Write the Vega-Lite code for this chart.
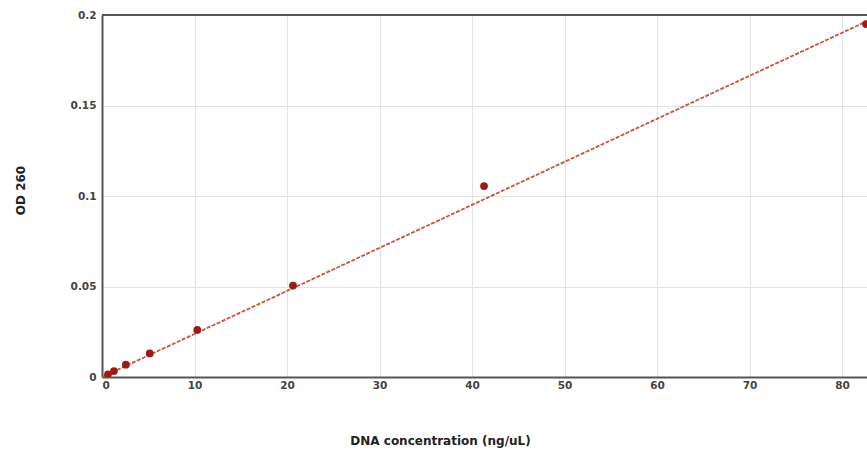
{
  "$schema": "https://vega.github.io/schema/vega-lite/v6.json",
  "width": 765,
  "height": 362,
  "autosize": {"type": "none"},
  "padding": {"left": 102, "top": 15, "right": 0, "bottom": 73},
  "background": "white",
  "config": {
    "view": {"stroke": null},
    "font": "DejaVu Sans"
  },
  "datasets": {
    "pts": [
      {"conc": 0.65, "od": 0.0015},
      {"conc": 1.29, "od": 0.0033},
      {"conc": 2.58, "od": 0.0068},
      {"conc": 5.16, "od": 0.0130},
      {"conc": 10.3, "od": 0.0260},
      {"conc": 20.65, "od": 0.0505},
      {"conc": 41.3, "od": 0.1055},
      {"conc": 82.6, "od": 0.1950}
    ],
    "fit": [
      {"conc": 0, "od": 0.0},
      {"conc": 83, "od": 0.1973}
    ]
  },
  "layer": [
    {
      "data": {"name": "fit"},
      "mark": {"type": "line", "color": "#c4563f", "strokeWidth": 1.8, "strokeDash": [4, 1.5], "clip": true},
      "encoding": {
        "x": {
          "field": "conc", "type": "quantitative",
          "scale": {"domain": [0, 82.7], "nice": false},
          "axis": {
            "values": [0, 10, 20, 30, 40, 50, 60, 70, 80],
            "title": "DNA concentration (ng/uL)",
            "titleFont": "DejaVu Sans", "titleFontSize": 12, "titleFontWeight": "bold", "titleColor": "#222",
            "titleX": 338, "titleY": 63, "titleAlign": "center", "titleBaseline": "middle", "titleAnchor": null,
            "labelFont": "DejaVu Sans", "labelFontSize": 10.5, "labelColor": "#444", "labelFontWeight": "bold", "labelPadding": 3,
            "ticks": false, "domainColor": "#555", "domainWidth": 2,
            "grid": true, "gridColor": "#e2e2e2", "gridWidth": 1
          }
        },
        "y": {
          "field": "od", "type": "quantitative",
          "scale": {"domain": [0, 0.2], "nice": false},
          "axis": {
            "values": [0, 0.05, 0.1, 0.15, 0.2],
            "format": "~g",
            "title": "OD 260",
            "titleFont": "DejaVu Sans", "titleFontSize": 12, "titleFontWeight": "bold", "titleColor": "#222",
            "titleX": -82, "titleY": 175, "titleAngle": -90, "titleAlign": "center", "titleBaseline": "middle", "titleAnchor": null,
            "labelFont": "DejaVu Sans", "labelFontSize": 10.5, "labelColor": "#444", "labelFontWeight": "bold", "labelPadding": 6,
            "ticks": false, "domainColor": "#555", "domainWidth": 2,
            "grid": true, "gridColor": "#e2e2e2", "gridWidth": 1
          }
        }
      }
    },
    {
      "data": {"name": "pts"},
      "mark": {"type": "point", "filled": true, "opacity": 1, "color": "#9b1a1a", "size": 60, "clip": true},
      "encoding": {
        "x": {"field": "conc", "type": "quantitative"},
        "y": {"field": "od", "type": "quantitative"}
      }
    },
    {
      "data": {"values": [{"top": 0.2}]},
      "mark": {"type": "rule", "color": "#555", "strokeWidth": 2},
      "encoding": {
        "y": {"field": "top", "type": "quantitative"}
      }
    }
  ]
}
